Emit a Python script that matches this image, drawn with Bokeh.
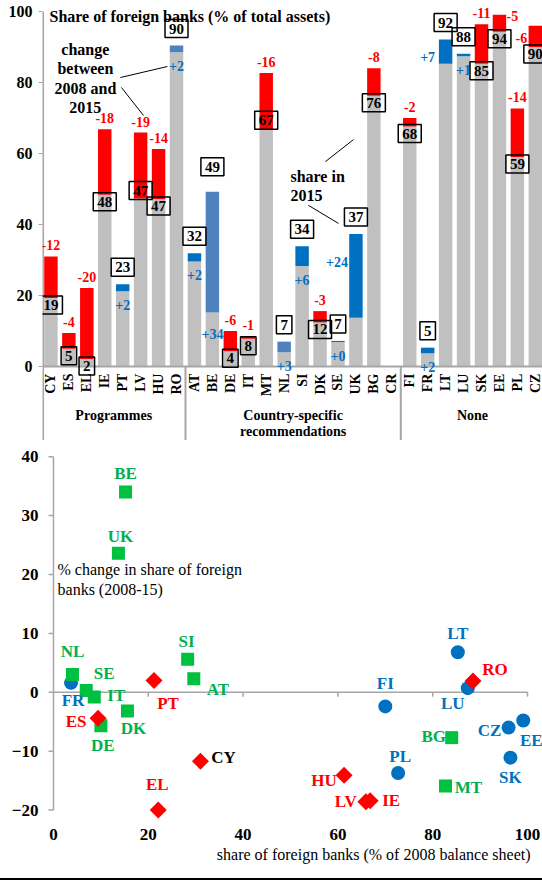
import numpy as np
from bokeh.plotting import figure
from bokeh.models import ColumnDataSource, LabelSet, Label, FixedTicker, Range1d, Div, Title
from bokeh.layouts import column
from bokeh.embed import file_html
from bokeh.resources import INLINE
from bokeh.core.properties import value

# ---------------- data ----------------
countries = ["CY", "ES", "EL", "IE", "PT", "LV", "HU", "RO",
             "AT", "BE", "DE", "IT", "MT", "NL", "SI", "DK", "SE", "UK", "BG", "CR",
             "FI", "FR", "LT", "LU", "SK", "EE", "PL", "CZ"]
group_of = (["Programmes"] * 8 + ["Country-specific recommendations"] * 12 + ["None"] * 8)
group_names = ["Programmes", "Country-specific\nrecommendations", "None"]
share_2008 = [31.0, 9.4, 22.1, 66.8, 21.2, 65.9, 61.3, 88.5,
              29.6, 15.2, 10.0, 8.6, 82.7, 4.0, 28.3, 15.6, 6.9, 13.7, 84.0, None,
              70.0, 3.7, 85.3, 87.4, 96.4, 99.1, 72.7, 96.0]
share_2015 = [19.3, 5.0, 2.1, 48.4, 23.2, 47.3, 47.2, 90.4,
              31.9, 49.2, 4.3, 7.8, 66.8, 7.0, 33.9, 12.4, 7.2, 37.3, 76.3, None,
              67.6, 5.3, 92.1, 88.1, 85.3, 94.3, 59.0, 90.0]
y_ticks_top = [0, 20, 40, 60, 80, 100]
x_ticks_sc = [0, 20, 40, 60, 80, 100]
y_ticks_sc = [-20, -10, 0, 10, 20, 30, 40]

# ---------------- styles ----------------
FONT = "Liberation Serif"
RED = "#ff0000"
BLUE = "#0070c0"
LBLUE = "#4f81bd"
GRAY = "#c0c0c0"
AXG = "#a6a6a6"
GREEN_M = "#00c040"
GREEN_T = "#00b050"
light_blue_bars = {"BE", "NL", "RO"}
box_nudge = {"LV": (0, 15), "MT": (0, 16), "BE": (0, 8)}
chg_nudge = {"BE": (0, -7), "UK": (-19, 70), "LT": (-18, 21), "EE": (13, -12), "CZ": (-14, -23)}
sc_offsets = {"BE": (0, 19), "UK": (2, 17), "NL": (0, 23), "SE": (18, 17), "IT": (22, 1),
              "DE": (2, -20), "DK": (6, -17), "ES": (-22, -3), "FR": (2, -18), "PT": (14, -23),
              "EL": (-1, 26), "CY": (23, 4), "SI": (-1, 18), "AT": (24, -11), "FI": (0, 23),
              "LT": (0, 19), "RO": (22, 12), "LU": (-15, -15), "CZ": (-19, -3), "EE": (8, -20),
              "SK": (0, -20), "PL": (2, 16), "BG": (-18, 1), "MT": (23, -2), "HU": (-20, -5),
              "LV": (-20, 0), "IE": (21, 0)}

# ---------------- top chart ----------------
idx, base, seg_top, seg_bot, seg_col = [], [], [], [], []
bx, by, btxt, bdx, bdy = [], [], [], [], []
cx, cy, ctxt, cdx, cdy, ccol = [], [], [], [], [], []
for i, (c, a, b) in enumerate(zip(countries, share_2008, share_2015)):
    if a is None:
        continue
    inc = b >= a
    idx.append(i)
    base.append(min(a, b))
    seg_bot.append(min(a, b))
    seg_top.append(max(a, b))
    seg_col.append((LBLUE if c in light_blue_bars else BLUE) if inc else RED)
    nx, ny = box_nudge.get(c, (0, 0))
    bx.append(i); by.append(b); btxt.append(f"{round(b):d}")
    bdx.append(nx); bdy.append(-((17 if inc else -7) + ny))   # text glyph: +y_offset is downward
    d = b - a
    nx, ny = chg_nudge.get(c, (0, 0))
    cx.append(i); cy.append(a); ctxt.append(f"{d:+.0f}")
    cdx.append(nx); cdy.append((-14 if inc else 11) + ny)
    ccol.append(BLUE if inc else RED)

p1 = figure(width=542, height=440, x_range=Range1d(-0.47, 27.4), y_range=Range1d(-20.85, 103.1),
            output_backend="svg", toolbar_location=None, x_axis_location=None,
            min_border_left=42, min_border_right=0, min_border_top=0, min_border_bottom=0)
p1.outline_line_color = None
p1.grid.visible = False
ya = p1.yaxis[0]
ya.ticker = FixedTicker(ticks=y_ticks_top)
ya.axis_line_color = None
ya.major_tick_line_color = AXG
ya.major_tick_out = 4
ya.major_tick_in = 0
ya.minor_tick_line_color = None
ya.major_label_standoff = 6
ya.major_label_text_font = FONT
ya.major_label_text_font_style = "bold"
ya.major_label_text_font_size = "16px"
ya.major_label_text_color = "black"

p1.vbar(x=idx, bottom=0, top=base, width=0.75, color=GRAY, line_color=None)
p1.vbar(x=idx, bottom=seg_bot, top=seg_top, width=0.75, color=seg_col, line_color=None)

# axis lines and group separators
p1.segment(x0=[-0.44], y0=[100], x1=[-0.44], y1=[-20.85], line_color=AXG, line_width=2)
p1.segment(x0=[-0.47], y0=[0], x1=[27.4], y1=[0], line_color=AXG, line_width=2)
p1.segment(x0=[7.5, 19.5], y0=[0, 0], x1=[7.5, 19.5], y1=[-20.85, -20.85], line_color=AXG, line_width=2)

p1.text(x=list(range(len(countries))), y=-2.0, text=countries, angle=np.pi / 2,
        text_align="right", text_baseline="middle", text_font=value(FONT),
        text_font_style="bold", text_font_size="14px", text_color="black")
p1.text(x=[3.5, 13.5, 23.5], y=-11.7, text=group_names, text_align="center",
        text_baseline="top", text_font=value(FONT), text_font_style="bold",
        text_font_size="14px", text_color="black", text_line_height=1.05)

bsrc = ColumnDataSource(dict(x=bx, y=by, t=btxt, dx=bdx, dy=bdy))
p1.text(x="x", y="y", text="t", source=bsrc, x_offset="dx", y_offset="dy",
        text_align="center", text_baseline="middle", text_font=value(FONT),
        text_font_style="bold", text_font_size="15px", text_color="black",
        border_line_color="black", border_line_width=1.5,
        background_fill_color=None, padding=4)
csrc = ColumnDataSource(dict(x=cx, y=cy, t=ctxt, dx=cdx, dy=cdy, c=ccol))
p1.add_layout(LabelSet(x="x", y="y", text="t", source=csrc, x_offset="dx", y_offset="dy",
                       text_align="center", text_baseline="middle", text_font=value(FONT),
                       text_font_style="bold", text_font_size="14px", text_color="c"))

p1.add_layout(Label(x=-0.08, y=98.6, text="Share of foreign banks (% of total assets)",
                    text_align="left", text_baseline="middle", text_font=FONT,
                    text_font_style="bold", text_font_size="16px", text_color="black"))
p1.add_layout(Label(x=1.92, y=91.8, text="change\nbetween\n2008 and\n2015",
                    text_align="center", text_baseline="top", text_font=FONT,
                    text_font_style="bold", text_font_size="16px", text_color="black",
                    text_line_height=1.15))
p1.add_layout(Label(x=13.35, y=55.8, text="share in\n2015",
                    text_align="left", text_baseline="top", text_font=FONT,
                    text_font_style="bold", text_font_size="16px", text_color="black",
                    text_line_height=1.1))
p1.segment(x0=[3.87, 3.93, 15.3, 14.35], y0=[81.4, 78.6, 57.7, 45.4],
           x1=[6.49, 5.16, 16.86, 16.03], y1=[84.5, 70.7, 63.9, 40.3],
           line_color="black", line_width=1)

# ---------------- scatter ----------------
p2 = figure(width=542, height=438, x_range=Range1d(-2.32, 103.16), y_range=Range1d(-21.6, 40.2),
            output_backend="svg", toolbar_location=None,
            min_border_left=42, min_border_right=0, min_border_top=15, min_border_bottom=59)
p2.outline_line_color = None
p2.grid.visible = False
ya2 = p2.yaxis[0]
ya2.ticker = FixedTicker(ticks=y_ticks_sc)
ya2.axis_line_color = None
ya2.major_tick_line_color = None
ya2.major_tick_out = 0
ya2.major_tick_in = 0
ya2.minor_tick_line_color = None
ya2.major_label_standoff = 4
ya2.major_label_text_font = FONT
ya2.major_label_text_font_style = "bold"
ya2.major_label_text_font_size = "17px"
ya2.major_label_text_color = "black"
xa2 = p2.xaxis[0]
xa2.ticker = FixedTicker(ticks=x_ticks_sc)
xa2.axis_line_color = None
xa2.major_tick_line_color = None
xa2.minor_tick_line_color = None
xa2.major_label_standoff = 3
xa2.major_label_text_font = FONT
xa2.major_label_text_font_style = "bold"
xa2.major_label_text_font_size = "17px"
xa2.major_label_text_color = "black"

p2.add_layout(Title(text="share of foreign banks (% of 2008 balance sheet)", align="right",
                    offset=12, standoff=2, text_font=FONT, text_font_style="normal",
                    text_font_size="16px", text_color="black"), "below")

# axis lines through the origin, with their tick marks
p2.segment(x0=[0], y0=[-20], x1=[0], y1=[40], line_color=AXG, line_width=1.5)
p2.segment(x0=[0], y0=[0], x1=[100], y1=[0], line_color=AXG, line_width=1.5)
p2.segment(x0=x_ticks_sc[1:], y0=0, x1=x_ticks_sc[1:], y1=-0.75, line_color=AXG, line_width=1.5)
p2.segment(x0=-1.05, y0=y_ticks_sc, x1=0, y1=y_ticks_sc, line_color=AXG, line_width=1.5)

pts = {"None": [], "Country-specific recommendations": [], "Programmes": []}
for c, g, a, b in zip(countries, group_of, share_2008, share_2015):
    if a is None:
        continue
    pts[g].append((c, a, b - a))

def src_for(g):
    rows = pts[g]
    return ColumnDataSource(dict(c=[r[0] for r in rows], x=[r[1] for r in rows], y=[r[2] for r in rows]))

s_none = src_for("None")
s_csr = src_for("Country-specific recommendations")
s_prog = src_for("Programmes")
p2.scatter(x="x", y="y", source=s_none, marker="circle", size=14, color=BLUE, line_color=None)
p2.scatter(x="x", y="y", source=s_csr, marker="square", size=13, color=GREEN_M, line_color=None)
p2.scatter(x="x", y="y", source=s_prog, marker="square", angle=np.pi / 4, size=12, color=RED, line_color=None)

lx, ly, lt, ldx, ldy, lc = [], [], [], [], [], []
for g, col in [("None", BLUE), ("Country-specific recommendations", GREEN_T), ("Programmes", RED)]:
    for c, a, d in pts[g]:
        ox, oy = sc_offsets.get(c, (0, 18))
        lx.append(a); ly.append(d); lt.append(c); ldx.append(ox); ldy.append(oy)
        lc.append("black" if c == "CY" else col)
lsrc = ColumnDataSource(dict(x=lx, y=ly, t=lt, dx=ldx, dy=ldy, c=lc))
p2.add_layout(LabelSet(x="x", y="y", text="t", source=lsrc, x_offset="dx", y_offset="dy",
                       text_align="center", text_baseline="middle", text_font=value(FONT),
                       text_font_style="bold", text_font_size="17px", text_color="c"))
p2.add_layout(Label(x=0.85, y=22.3, text="% change in share of foreign\nbanks (2008-15)",
                    text_align="left", text_baseline="top", text_font=FONT,
                    text_font_style="normal", text_font_size="16px", text_color="black",
                    text_line_height=1.2))

rule = Div(text="", width=542, height=2, margin=(0, 0, 0, 0),
           styles={"background-color": "black"})

layout = column(p1, p2, rule, spacing=0)
open("out.html", "w").write(file_html(layout, INLINE))
